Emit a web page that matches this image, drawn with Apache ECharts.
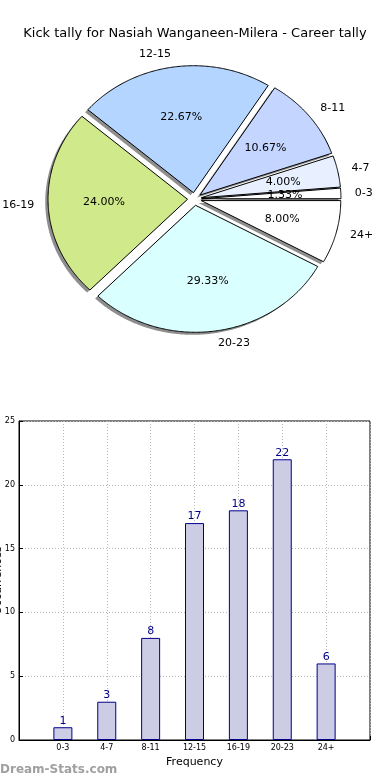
<!DOCTYPE html>
<html>
<head>
<meta charset="utf-8">
<script src="https://cdn.jsdelivr.net/npm/echarts@6/dist/echarts.min.js"></script>
<style>
html,body{margin:0;padding:0;background:#fff;}
#c{width:390px;height:780px;}
</style>
</head>
<body>
<div id="c"></div>
<script>
const titleText = 'Kick tally for Nasiah Wanganeen-Milera - Career tally';
const categories = ['0-3', '4-7', '8-11', '12-15', '16-19', '20-23', '24+'];
const counts = [1, 3, 8, 17, 18, 22, 6];
const pieColors = ['#ffffff', '#e8f0ff', '#c4d6ff', '#b3d5ff', '#d0e98a', '#d9ffff', '#ffffff'];
const yTicks = [0, 5, 10, 15, 20, 25];
const xAxisName = 'Frequency';
const yAxisName = 'Occurrences';
const watermark = 'Dream-Stats.com';

const FONT = 'DejaVu Sans';
const EXPLODE = 0.05;      // matplotlib-style explode, in unit-radius data space
const SHADOW_D = 0.02;     // shadow displacement in data space
const LABEL_DIST = 1.1;
const PCT_DIST = 0.6;

const total = counts.reduce((a, b) => a + b, 0);
const cum = [0];
counts.forEach(v => cum.push(cum[cum.length - 1] + v));

function angles(i) {
  const t1 = cum[i] / total * 360;
  const t2 = cum[i + 1] / total * 360;
  return [t1, t2, (t1 + t2) / 2];
}
function wedgePts(i, api, dx, dy) {
  const [t1, t2, tm] = angles(i);
  const r = tm * Math.PI / 180;
  const ox = EXPLODE * Math.cos(r) + dx, oy = EXPLODE * Math.sin(r) + dy;
  const pts = [api.coord([ox, oy])];
  const n = Math.max(2, Math.ceil((t2 - t1) / 0.5));
  for (let k = 0; k <= n; k++) {
    const a = (t1 + (t2 - t1) * k / n) * Math.PI / 180;
    pts.push(api.coord([ox + Math.cos(a), oy + Math.sin(a)]));
  }
  return pts;
}

const pieData = categories.map((c, i) => ({ name: c, value: [0, 0, counts[i]] }));

// bar axis: padded categories so ticks sit at -1..7 like the original
const barCats = [''].concat(categories, ['']);
const barVals = ['-'].concat(counts, ['-']);

const chart = echarts.init(document.getElementById('c'), null, { renderer: 'canvas' });
chart.setOption({
  animation: false,
  backgroundColor: '#ffffff',
  textStyle: { fontFamily: FONT },
  title: {
    text: titleText, left: 'center', top: 22,
    textStyle: { fontFamily: FONT, fontSize: 13, fontWeight: 'normal', color: '#000' }
  },
  graphic: [{
    type: 'text', left: 0, top: 764,
    style: { text: watermark, fill: '#a0a0a0', font: 'bold 12px "DejaVu Sans"' }
  }],
  grid: [
    {
      left: 19, right: 20, top: 421, bottom: 40,
      show: true, borderColor: '#000', borderWidth: 1,
      containLabel: false, outerBoundsMode: 'none'
    },
    {
      left: 55, width: 279, top: 72, height: 254,
      containLabel: false, outerBoundsMode: 'none'
    }
  ],
  xAxis: [
    {
      gridIndex: 0,
      type: 'category', data: barCats, boundaryGap: false,
      name: xAxisName, nameLocation: 'middle', nameGap: 17,
      nameTextStyle: { fontFamily: FONT, fontSize: 11, color: '#000' },
      axisLine: { lineStyle: { color: '#000' } },
      axisTick: { inside: true, length: 4, lineStyle: { color: '#000' } },
      axisLabel: { fontFamily: FONT, fontSize: 8, color: '#000', margin: 4, interval: 0 },
      splitLine: { show: true, lineStyle: { type: [1, 2], color: '#b8b8b8' } }
    },
    { gridIndex: 1, type: 'value', min: -1, max: 1, show: false }
  ],
  yAxis: [
    {
      gridIndex: 0,
      type: 'value', min: 0, max: 25, interval: 5,
      name: yAxisName, nameLocation: 'middle', nameGap: 15, nameRotate: 90,
      nameMoveOverlap: false,
      nameTextStyle: { fontFamily: FONT, fontSize: 11, color: '#000' },
      axisLine: { show: true, lineStyle: { color: '#000' } },
      axisTick: { show: true, inside: true, length: 4, lineStyle: { color: '#000' } },
      axisLabel: { fontFamily: FONT, fontSize: 8, color: '#000', margin: 4,
        formatter: v => (yTicks.indexOf(v) >= 0 ? String(v) : '') },
      splitLine: { show: true, lineStyle: { type: [1, 2], color: '#b8b8b8' } }
    },
    { gridIndex: 1, type: 'value', min: -1, max: 1, show: false }
  ],
  series: [
    {
      type: 'custom', name: 'shadows', coordinateSystem: 'cartesian2d',
      xAxisIndex: 1, yAxisIndex: 1, clip: false, silent: true,
      encode: { x: 0, y: 1 },
      data: pieData, z: 1,
      renderItem: (params, api) => {
        const i = params.dataIndex;
        return {
          type: 'polygon',
          shape: { points: wedgePts(i, api, -SHADOW_D, -SHADOW_D) },
          style: { fill: '#8e8e8e', stroke: null }
        };
      }
    },
    {
      type: 'custom', name: 'wedges', coordinateSystem: 'cartesian2d',
      xAxisIndex: 1, yAxisIndex: 1, clip: false, silent: true,
      encode: { x: 0, y: 1 },
      data: pieData, z: 2,
      renderItem: (params, api) => {
        const i = params.dataIndex;
        return {
          type: 'polygon',
          shape: { points: wedgePts(i, api, 0, 0) },
          style: { fill: pieColors[i], stroke: '#000', lineWidth: 1, lineJoin: 'miter' }
        };
      }
    },
    {
      type: 'custom', name: 'labels', coordinateSystem: 'cartesian2d',
      xAxisIndex: 1, yAxisIndex: 1, clip: false, silent: true,
      encode: { x: 0, y: 1 },
      data: pieData, z: 3,
      renderItem: (params, api) => {
        const i = params.dataIndex;
        const tm = angles(i)[2] * Math.PI / 180;
        const ox = EXPLODE * Math.cos(tm), oy = EXPLODE * Math.sin(tm);
        const lx = ox + LABEL_DIST * Math.cos(tm), ly = oy + LABEL_DIST * Math.sin(tm);
        const px = ox + PCT_DIST * Math.cos(tm), py = oy + PCT_DIST * Math.sin(tm);
        const lp = api.coord([lx, ly]);
        const pp = api.coord([px, py]);
        const pct = (counts[i] / total * 100).toFixed(2) + '%';
        return {
          type: 'group',
          children: [
            {
              type: 'text', x: lp[0], y: lp[1],
              style: { text: categories[i], fill: '#000', font: '11px "DejaVu Sans"',
                align: lx > 0 ? 'left' : 'right', verticalAlign: 'middle' }
            },
            {
              type: 'text', x: pp[0], y: pp[1],
              style: { text: pct, fill: '#000', font: '11px "DejaVu Sans"',
                align: 'center', verticalAlign: 'middle' }
            }
          ]
        };
      }
    },
    {
      type: 'bar', name: 'count',
      xAxisIndex: 0, yAxisIndex: 0,
      data: barVals, barWidth: 19,
      itemStyle: { color: '#ccccE4', borderColor: '#00008b', borderWidth: 1 },
      label: {
        show: true, position: 'top', distance: 1,
        fontFamily: FONT, fontSize: 11, color: '#00008b'
      },
      z: 1
    }
  ]
});
</script>
</body>
</html>
